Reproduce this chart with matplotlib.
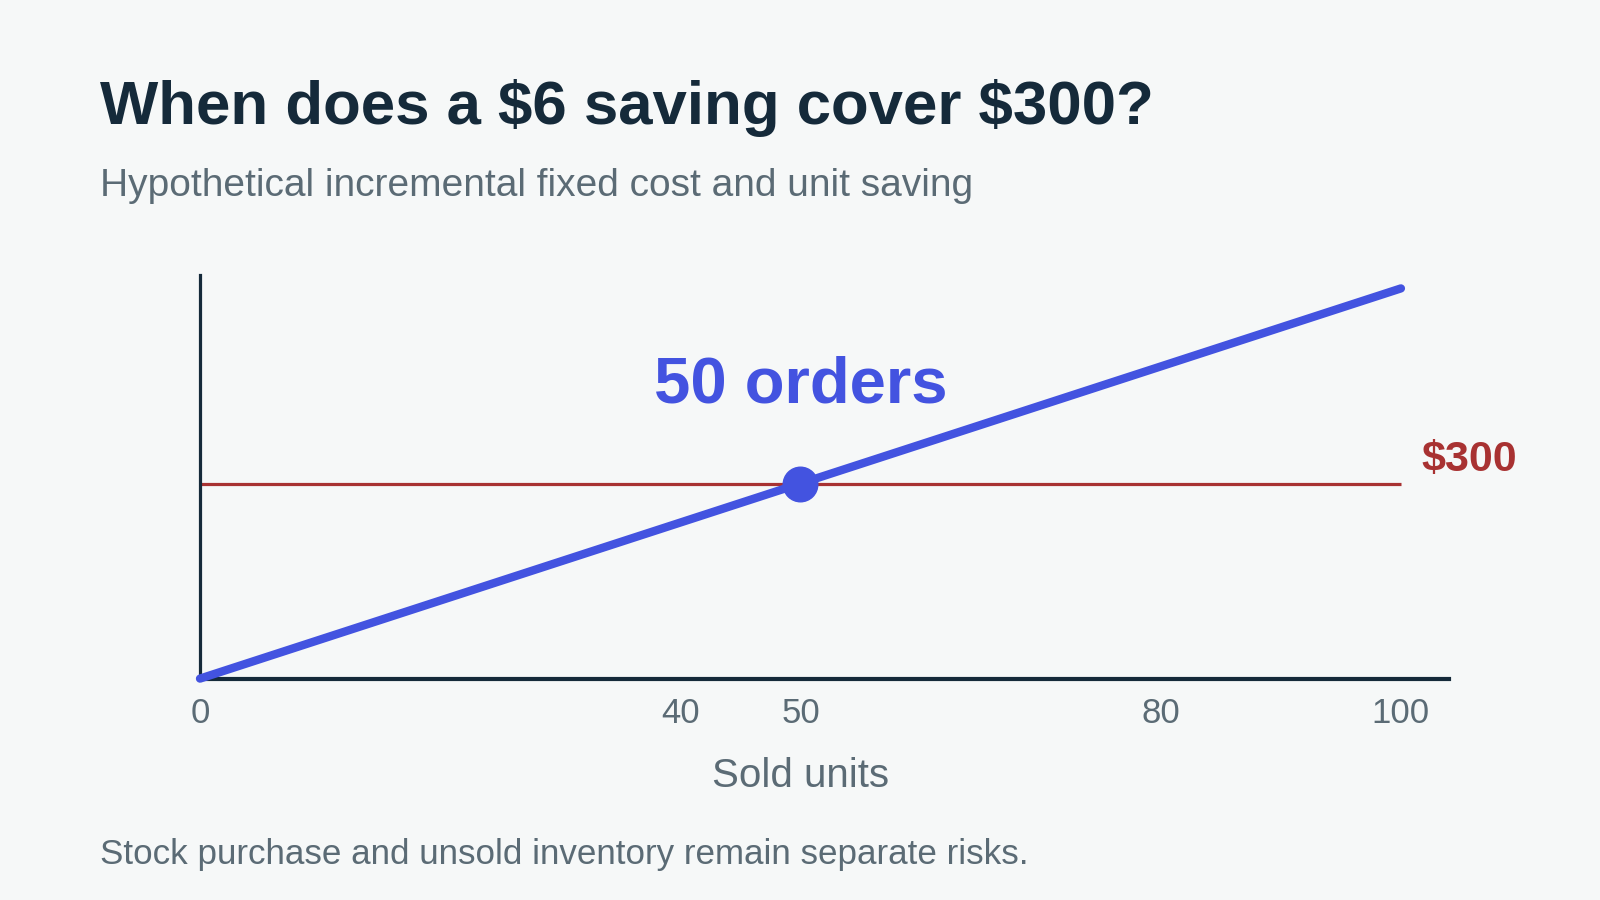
import matplotlib
matplotlib.use("Agg")
import matplotlib.pyplot as plt

# Data
units = [0, 50, 100]
saving_per_unit = 6
fixed_cost = 300
cumulative_saving = [u * saving_per_unit for u in units]
break_even_units = 50
xticks = [0, 40, 50, 80, 100]

title = "When does a \\$6 saving cover \\$300?"
subtitle = "Hypothetical incremental fixed cost and unit saving"
footer = "Stock purchase and unsold inventory remain separate risks."
xlabel = "Sold units"

BG = "#f6f8f8"
DARK = "#152a3a"
GRAY = "#5b6b75"
BLUE = "#4353e0"
RED = "#a83232"

plt.rcParams['font.family'] = ['Liberation Sans', 'DejaVu Sans']

fig = plt.figure(figsize=(16, 9), dpi=100, facecolor=BG)
ax = fig.add_axes([0.125, 0.246, 0.7806, 0.448])
ax.set_facecolor(BG)

ax.set_xlim(0, 104)
ax.set_ylim(0, 620)

ax.plot([0, 100], [fixed_cost, fixed_cost], color=RED, lw=2.3, solid_capstyle='butt', zorder=2)
ax.plot(units, cumulative_saving, color=BLUE, lw=6, solid_capstyle='round', zorder=3, clip_on=False)
ax.scatter([break_even_units], [break_even_units * saving_per_unit], s=620, color=BLUE, zorder=4, clip_on=False)

ax.text(break_even_units, 450, f"{break_even_units} orders", color=BLUE, fontsize=47,
        fontweight='bold', ha='center', va='center')
ax.text(101.7, fixed_cost + 36, f"\\${fixed_cost}", color=RED, fontsize=31,
        fontweight='bold', ha='left', va='center')

for s in ['top', 'right']:
    ax.spines[s].set_visible(False)
ax.spines['left'].set_color(DARK)
ax.spines['left'].set_linewidth(2.3)
ax.spines['bottom'].set_color(DARK)
ax.spines['bottom'].set_linewidth(3)

ax.set_yticks([])
ax.set_xticks(xticks)
ax.set_xticklabels([str(t) for t in xticks])
ax.tick_params(axis='x', length=0, pad=13, labelsize=25, labelcolor=GRAY)
ax.set_xlabel(xlabel, fontsize=29, color=GRAY)
ax.xaxis.set_label_coords(50 / 104, -0.195)

fig.text(0.0625, 0.862, title, fontsize=44.5, fontweight='bold', color=DARK, ha='left', va='baseline')
fig.text(0.0625, 0.782, subtitle, fontsize=28, color=GRAY, ha='left', va='baseline')
fig.text(0.0625, 0.040, footer, fontsize=25.2, color=GRAY, ha='left', va='baseline')

fig.savefig("out.png", dpi=100, facecolor=BG)
